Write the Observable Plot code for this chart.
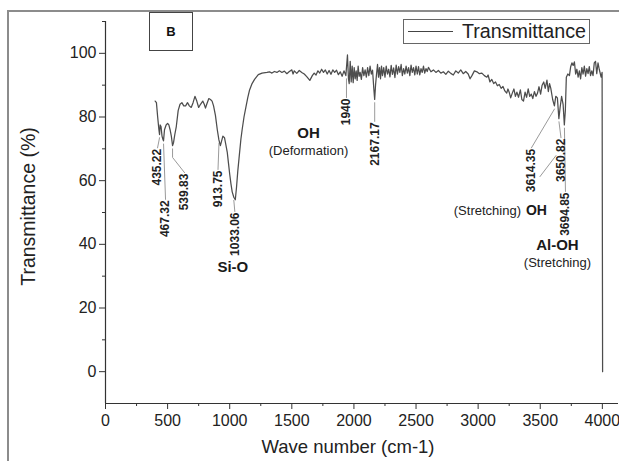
<!DOCTYPE html>
<html>
<head>
<meta charset="utf-8">
<script src="https://cdn.jsdelivr.net/npm/d3@7"></script>
<script src="https://cdn.jsdelivr.net/npm/@observablehq/plot@0.6"></script>
<style>
  body { margin: 0; background: #fff; font-family: Arial, "Liberation Sans", sans-serif; }
  #wrap { position: relative; width: 619px; height: 461px; overflow: hidden; }
  #wrap svg { position: absolute; left: 0; top: 0; }
  .frame { position: absolute; left: 7px; top: 10px; width: 700px; height: 600px;
           border-left: 2px solid #8c8c8c; border-top: 2px solid #8c8c8c; }
  .panel { position: absolute; left: 149px; top: 12px; width: 42px; height: 37px;
           border: 1px solid #444; background: #fff; font: bold 13px Arial, sans-serif;
           color: #111; display: flex; align-items: center; justify-content: center; }
  .legend { position: absolute; left: 403px; top: 19px; width: 185px; height: 23px;
            border: 1px solid #666; background: #fff; }
  .legend .swatch { position: absolute; left: 4px; top: 11px; width: 45px; height: 0;
                    border-top: 1.3px solid #444; }
  .legend .name { position: absolute; left: 58px; top: 0px; font: 19.7px Arial, sans-serif;
                  color: #222; line-height: 23px; }
</style>
</head>
<body>
<div id="wrap"></div>
<script>
// FTIR spectrum: [wave number (cm-1), transmittance (%)]
const spectrum = [
  [400, 85.0], [410, 84.5], [420, 80], [430, 76], [435, 74.5], [440, 77.5], [447, 77],
  [455, 74], [462, 73], [467, 72.5], [475, 76], [488, 77.5], [500, 78], [510, 77.5],
  [520, 76], [530, 74], [540, 71], [548, 72], [558, 74.5], [570, 77], [585, 82],
  [600, 84], [615, 84.5], [630, 83.5], [645, 83.5], [660, 84.5], [675, 83.5], [690, 83],
  [705, 84.5], [720, 86.5], [735, 85], [750, 83], [765, 84], [783, 85], [795, 84],
  [805, 82.8], [815, 84], [832, 85.8], [845, 85.5], [858, 85], [870, 83.5], [885, 80.5],
  [900, 76], [913, 72.8], [925, 71], [935, 72.5], [945, 74], [958, 73.5], [968, 71.5],
  [980, 69], [990, 65.5], [1000, 62], [1010, 59], [1020, 56.5], [1033, 54.8], [1045, 54],
  [1055, 58], [1065, 63], [1075, 67], [1090, 73], [1100, 76], [1115, 80], [1130, 83],
  [1145, 86], [1160, 88.5], [1180, 90.5], [1200, 91.8], [1230, 93.3], [1260, 93.8],
  [1300, 94], [1320, 94.2], [1340, 93.8], [1360, 94.3], [1380, 94], [1400, 94.5],
  [1420, 94], [1440, 94.4], [1460, 93.6], [1480, 94.3], [1500, 94.8], [1510, 93.5],
  [1520, 94.5], [1540, 93.7], [1560, 94.6], [1580, 94], [1600, 93.5], [1620, 92.7],
  [1645, 91.5], [1665, 93], [1680, 93.8], [1695, 93.2], [1710, 94.5], [1725, 93.8],
  [1740, 95], [1755, 94], [1770, 94.8], [1785, 93.5], [1800, 94.6], [1815, 93.4],
  [1830, 94.8], [1845, 94], [1860, 94.7], [1875, 93.3], [1890, 94.2], [1905, 92.8],
  [1920, 94.5], [1935, 93], [1948, 99.5], [1956, 92], [1962, 90.5], [1970, 97.5],
  [1978, 91], [1986, 96], [1994, 90.8], [2002, 95.5], [2010, 92], [2018, 94.5],
  [2026, 91.5], [2034, 96], [2042, 92.8], [2050, 94], [2060, 91.8], [2070, 95.5],
  [2080, 93], [2090, 94.8], [2100, 92.5], [2110, 95.5], [2120, 93], [2130, 96],
  [2140, 93.5], [2150, 94.7], [2160, 89], [2167, 85.5], [2174, 90], [2182, 93.5],
  [2190, 96.5], [2198, 92.5], [2206, 95.5], [2214, 92], [2222, 96], [2230, 93],
  [2240, 95.5], [2250, 92.5], [2260, 96], [2270, 93.5], [2280, 95], [2290, 92.6],
  [2300, 96.2], [2310, 93.4], [2320, 95.4], [2330, 92.4], [2340, 96.3], [2350, 93.5],
  [2360, 95.8], [2370, 94], [2380, 96.5], [2390, 93], [2400, 95.2], [2410, 93.5],
  [2420, 96], [2430, 93.8], [2440, 95.5], [2450, 93], [2460, 96.3], [2470, 94],
  [2480, 95.5], [2490, 93.2], [2500, 96], [2510, 93.5], [2520, 95.8], [2530, 93.2],
  [2540, 95.2], [2550, 94], [2560, 96], [2570, 93.8], [2580, 95.2], [2590, 94.3],
  [2600, 95.6], [2620, 94.2], [2640, 94.8], [2660, 94], [2680, 94.6], [2700, 93.8],
  [2720, 94.2], [2740, 93.4], [2760, 94.4], [2780, 93.7], [2800, 93.2], [2820, 94.5],
  [2840, 93.8], [2860, 94.8], [2880, 93.6], [2900, 94.3], [2920, 93.5], [2935, 92],
  [2950, 93], [2970, 94.5], [2990, 94.2], [3010, 93.6], [3030, 93.8], [3050, 93],
  [3070, 92.5], [3080, 93.2], [3095, 91], [3110, 91.8], [3125, 90.5], [3140, 91],
  [3155, 89.8], [3170, 90.2], [3185, 89], [3200, 89.6], [3215, 88.2], [3230, 87.5],
  [3240, 88.8], [3250, 87.8], [3262, 86], [3275, 87.5], [3288, 88.8], [3300, 86.5],
  [3312, 87.8], [3325, 86.2], [3340, 88.5], [3352, 85.5], [3365, 85], [3378, 87.8],
  [3390, 86.2], [3403, 88.8], [3415, 86.5], [3428, 87.2], [3440, 85.8], [3453, 88],
  [3466, 86.5], [3478, 87.5], [3490, 89.5], [3503, 87.2], [3515, 90], [3528, 91],
  [3540, 89], [3554, 91.6], [3565, 88], [3575, 90.5], [3585, 89], [3600, 85.5],
  [3614, 83.5], [3625, 86.5], [3638, 86], [3650, 79.5], [3660, 83], [3672, 86.5],
  [3684, 84], [3694, 77.5], [3702, 82], [3710, 92.5], [3722, 93.5], [3735, 93],
  [3745, 95.8], [3755, 97], [3765, 96.2], [3775, 97.3], [3785, 93.5], [3795, 95],
  [3805, 92.5], [3815, 94.5], [3825, 92], [3835, 95.5], [3845, 93.5], [3855, 96],
  [3865, 92.8], [3875, 95.2], [3885, 93.6], [3895, 95.8], [3905, 93], [3915, 94.5],
  [3925, 93], [3935, 97], [3945, 97.5], [3955, 93.6], [3965, 97], [3975, 95],
  [3990, 92.5], [3998, 94], [4002, 0]
];

// Assigned absorption bands (cm-1)
const peakWaveNumbers = [435.22, 467.32, 539.83, 913.75, 1033.06, 1940, 2167.17, 3614.35, 3650.82, 3694.85];

// Band group names
const groupLabels = ["Si-O", "OH", "Al-OH", "OH"];
const groupNotes = ["", "(Deformation)", "(Stretching)", "(Stretching)"];

// Axis ticks
const xTicks = [0, 500, 1000, 1500, 2000, 2500, 3000, 3500, 4000];
const xMinorTicks = [250, 750, 1250, 1750, 2250, 2750, 3250, 3750];
const yTicks = [0, 20, 40, 60, 80, 100];
const yMinorTicks = [10, 30, 50, 70, 90, 110];

// ---- layout ----
const W = 619, H = 461;
const margin = {left: 105, right: 1, top: 21, bottom: 58};
const xDomain = [0, 4130], yDomain = [-10, 110];
const pxPerX = (W - margin.left - margin.right) / (xDomain[1] - xDomain[0]);
const pxPerY = (H - margin.top - margin.bottom) / (yDomain[1] - yDomain[0]);

// label placement per band: top of the rotated number (in %T), horizontal shift (px), optional knee of the leader (%T)
const peakLayout = [
  {top: 70.0, dx: -2},
  {top: 53.8, dx: 2},
  {top: 62.2, dx: 12, knee: 67.3},
  {top: 63.2, dx: -1},
  {top: 50.0, dx: 1},
  {top: 85.8, dx: 0},
  {top: 78.3, dx: 0},
  {top: 70.0, dx: -23},
  {top: 73.2, dx: 2},
  {top: 56.3, dx: 1}
];
// group label anchors: band index, level (%T), shift (px)
const groupLayout = [
  {band: 4, y: 32.7, dx: -1, noteY: 0},
  {band: 5, y: 74.8, dx: -38, noteY: 69.5},
  {band: 9, y: 39.6, dx: -7, noteY: 34.3},
  {band: 8, y: 50.6, dx: -12, noteY: 50.6}
];

// lowest point of the trace around a band
function dipAt(wn) {
  const near = spectrum.filter(d => Math.abs(d[0] - wn) <= 8);
  return d3.min(near, d => d[1]);
}

const peaks = peakWaveNumbers.map((wn, i) => {
  const L = peakLayout[i];
  const tx = wn + L.dx / pxPerX;
  const start = dipAt(wn) - 1.0;
  const end = L.top + 1 / pxPerY;
  const pts = L.knee !== undefined
    ? [[wn, start], [wn, L.knee], [tx, end]]
    : [[wn, start], [tx, end]];
  return {wn, label: String(wn), tx, top: L.top, pts};
});

const groups = groupLabels.map((name, i) => {
  const G = groupLayout[i];
  return {name, note: groupNotes[i], x: peakWaveNumbers[G.band] + G.dx / pxPerX, y: G.y, noteY: G.noteY};
});
// "(Stretching) OH" sits on one line, to the left of the 3650.82 band, tied to it by a short leader
const inline = groups[3];
const inlineLeader = [[-7, 34], [9, 55]].map(([dx, dy]) => [inline.x + dx / pxPerX, inline.y + dy / pxPerY]);

const leaderPoints = [...peaks.map(p => p.pts), inlineLeader]
  .flatMap((pts, i) => pts.map(([x, y]) => ({i, x, y})));
const plain = d3.format("d");

const chart = Plot.plot({
  width: W, height: H,
  marginLeft: margin.left, marginRight: margin.right, marginTop: margin.top, marginBottom: margin.bottom,
  x: {domain: xDomain},
  y: {domain: yDomain},
  style: {fontFamily: "Arial, 'Liberation Sans', sans-serif", color: "#222", background: "transparent"},
  marks: [
    // axis lines
    Plot.ruleX([0], {stroke: "#333", strokeWidth: 1.2}),
    Plot.ruleY([yDomain[0]], {stroke: "#333", strokeWidth: 1.2}),
    // ticks and tick labels
    Plot.axisX({ticks: xTicks, tickSize: 6, tickPadding: 5, tickFormat: plain, fontSize: 16, label: null, stroke: "#333"}),
    Plot.axisX({ticks: xMinorTicks, tickSize: 3, tickFormat: () => "", label: null, stroke: "#333"}),
    Plot.axisY({ticks: yTicks, tickSize: 6, tickPadding: 3, tickFormat: plain, fontSize: 16, label: null, stroke: "#333"}),
    Plot.axisY({ticks: yMinorTicks, tickSize: 3, tickFormat: () => "", label: null, stroke: "#333"}),
    // axis titles
    Plot.text(["Wave number (cm-1)"], {frameAnchor: "bottom", textAnchor: "middle", lineAnchor: "middle", dy: 44, dx: -14, fontSize: 18.5, fill: "#222"}),
    Plot.text(["Transmittance (%)"], {frameAnchor: "left", textAnchor: "middle", lineAnchor: "middle", rotate: -90, dx: -77, dy: -6, fontSize: 19.5, fill: "#222"}),
    // leader lines
    Plot.line(leaderPoints, {x: "x", y: "y", z: "i", stroke: "#9a9a9a", strokeWidth: 1}),
    // spectrum
    Plot.line(spectrum, {x: d => d[0], y: d => d[1], stroke: "#4d4d4d", strokeWidth: 1.25}),
    // band numbers
    Plot.text(peaks, {x: "tx", y: "top", text: "label", rotate: -90, textAnchor: "end",
      fontSize: 12, fontWeight: "bold", fill: "#222"}),
    // group names
    Plot.text(groups.slice(0, 3), {x: "x", y: "y", text: "name", fontSize: 15, fontWeight: "bold", fill: "#1a1a1a"}),
    Plot.text(groups.slice(1, 3), {x: "x", y: "noteY", text: "note", fontSize: 13, fill: "#222"}),
    Plot.text([inline], {x: "x", y: "y", text: "name", textAnchor: "end", fontSize: 14, fontWeight: "bold", fill: "#1a1a1a"}),
    Plot.text([inline], {x: "x", y: "noteY", text: "note", dx: -26, textAnchor: "end", fontSize: 13, fill: "#222"})
  ]
});

const wrap = document.getElementById("wrap");
const frame = document.createElement("div");
frame.className = "frame";
wrap.appendChild(frame);
wrap.appendChild(chart);

const panel = document.createElement("div");
panel.className = "panel";
panel.textContent = "B";
wrap.appendChild(panel);

const legend = document.createElement("div");
legend.className = "legend";
legend.innerHTML = '<div class="swatch"></div><div class="name">Transmittance</div>';
wrap.appendChild(legend);
</script>
</body>
</html>
